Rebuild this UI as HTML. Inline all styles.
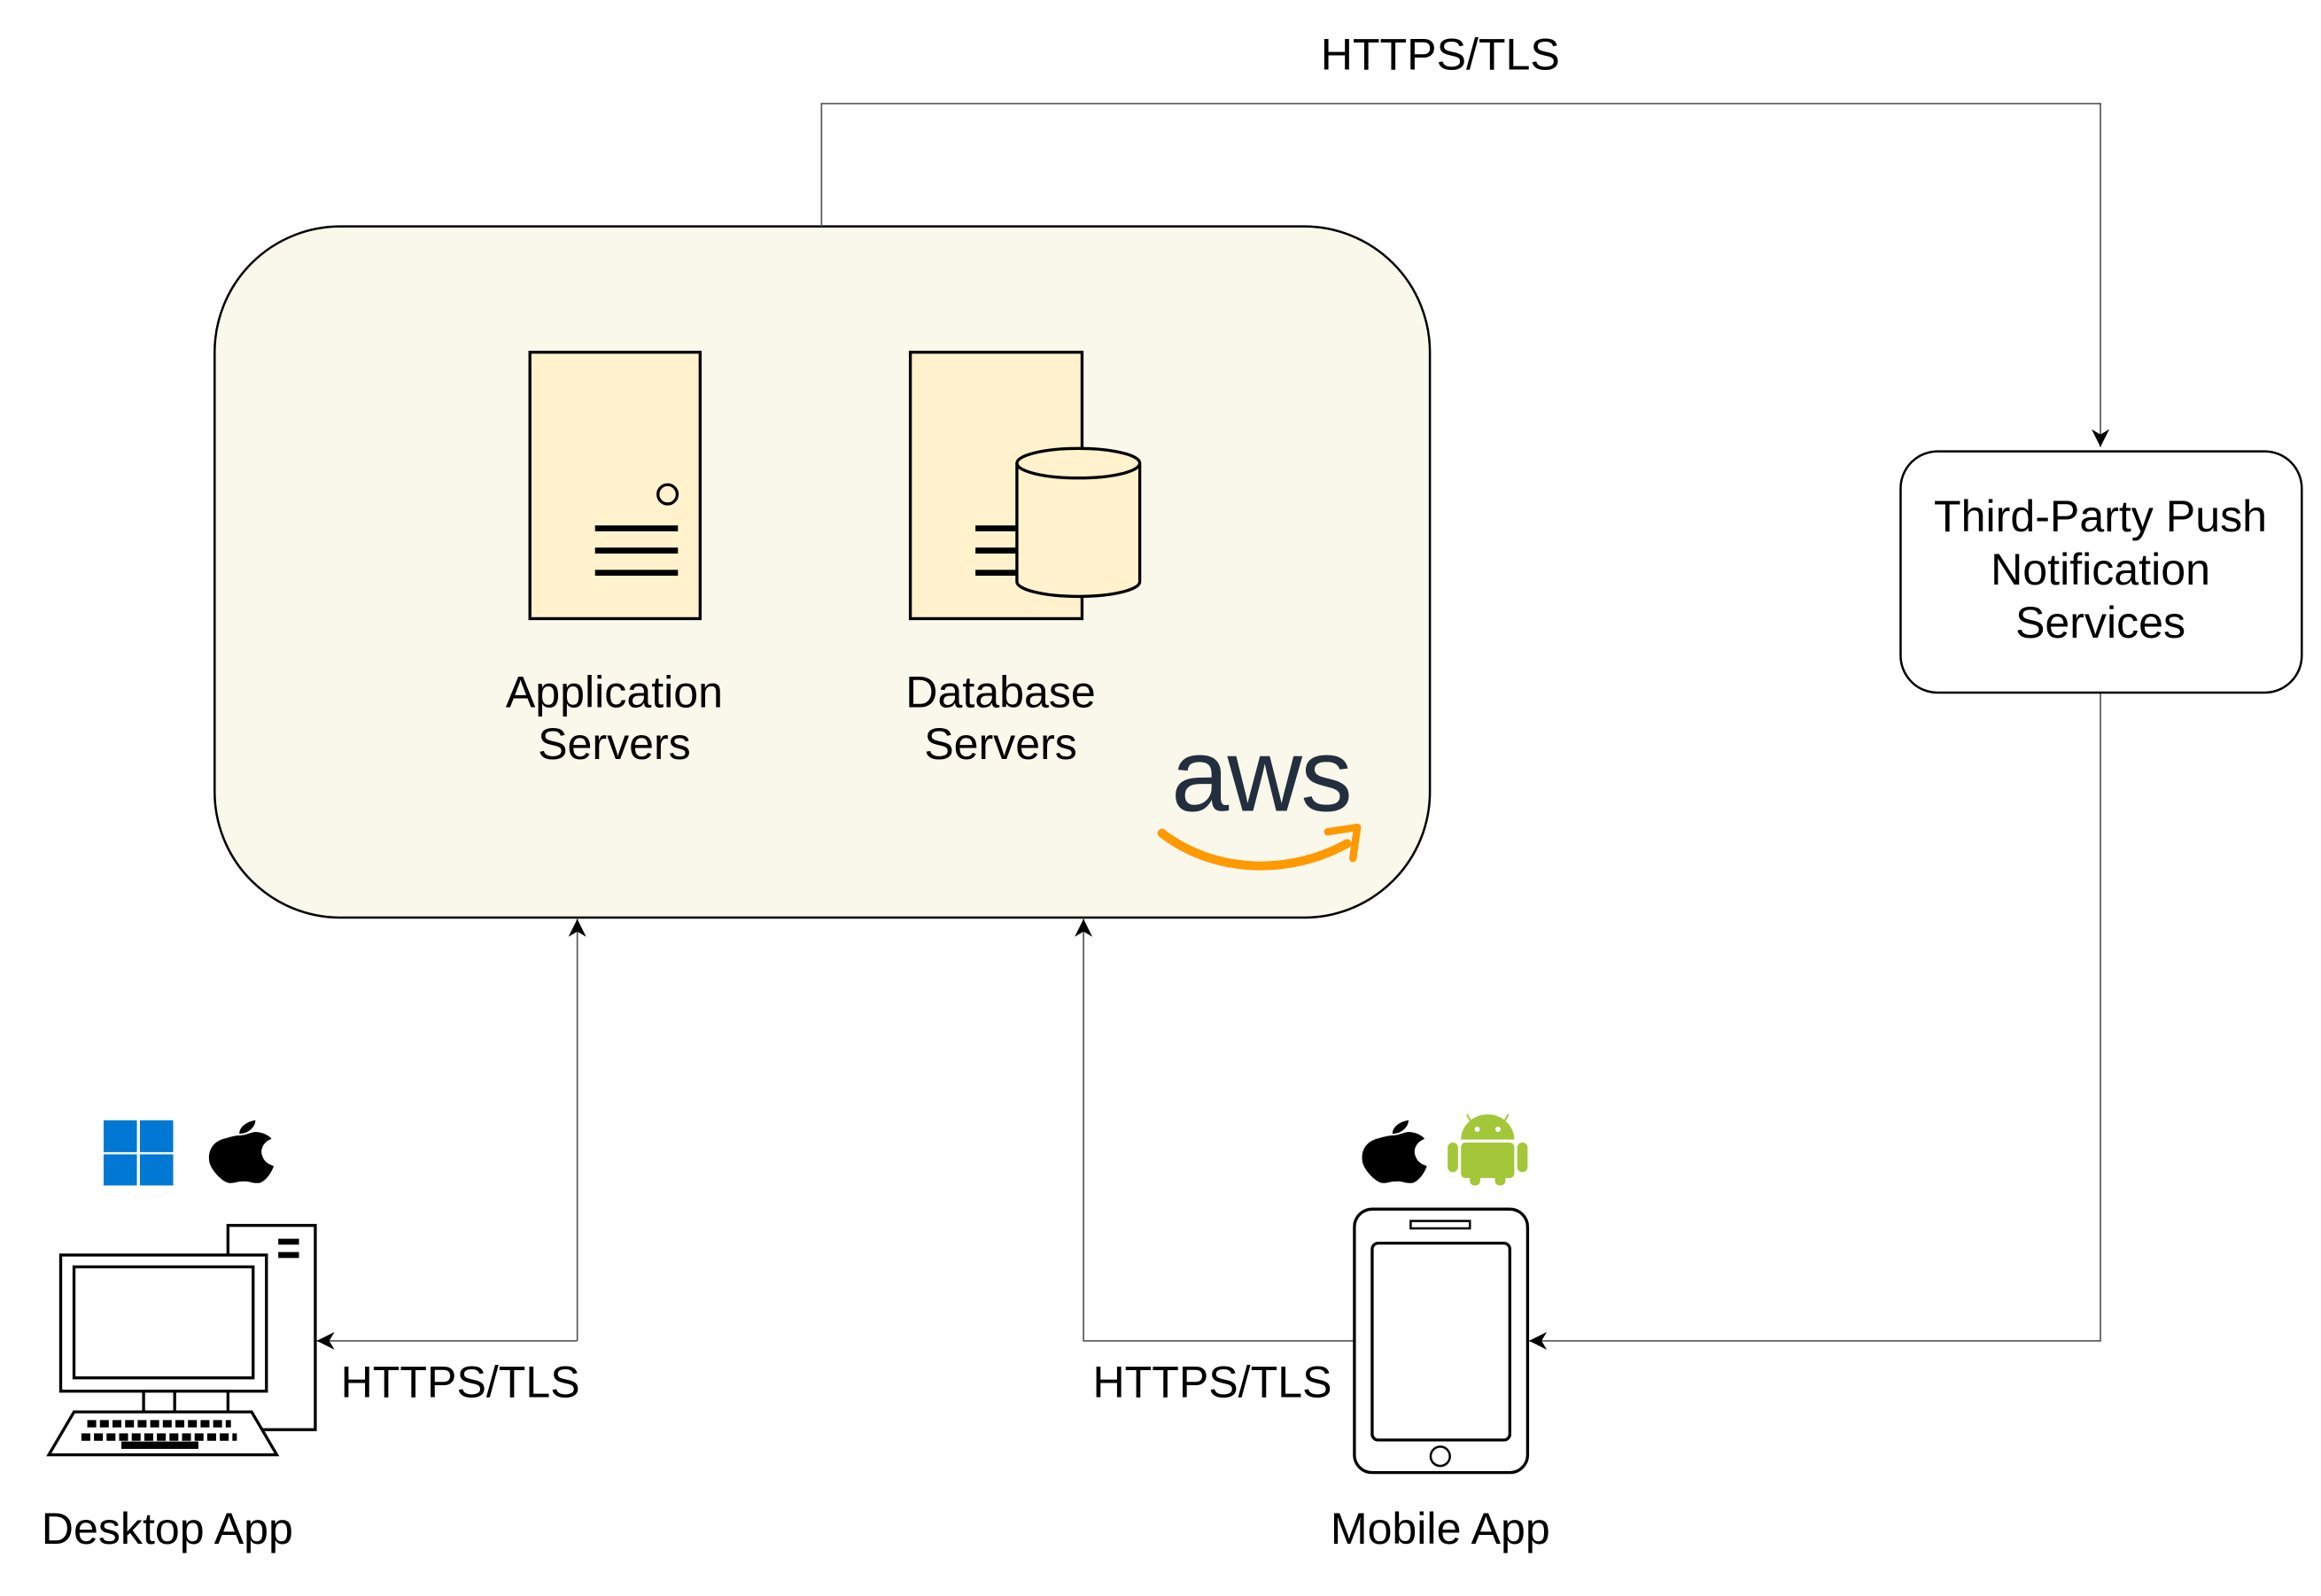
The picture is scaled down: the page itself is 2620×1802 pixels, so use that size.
<!DOCTYPE html>
<html><head><meta charset="utf-8"><style>
html,body{margin:0;padding:0;background:#fff;}
svg{display:block;}
text{font-family:"Liberation Sans",Arial,sans-serif;fill:#000;}
</style></head><body>
<svg width="2620" height="1802" viewBox="0 0 1568 1078.4" preserveAspectRatio="none" xmlns="http://www.w3.org/2000/svg">
<defs>
<marker id="ar" viewBox="0 0 10 10" refX="10" refY="5" markerWidth="12" markerHeight="12" markerUnits="userSpaceOnUse" orient="auto">
<path d="M0,0 L10,5 L0,10 L3,5 z" fill="#000"/>
</marker>
<path id="apple" d="M14,8 C17,8 19,6 21,6 C24,6 27,8 28,10 C24,12 23,17 24,20 C25,24 27,25 29,26 C28,30 25,36 22,36 C19,36 19,35 16,35 C13,35 12,36 10,36 C7,36 2,29 1,24 C0,18 2,12 7,10 C10,9 12,8 14,8 Z M14,7 C14,3 17,0 21,-1 C21,3 18,7 14,7 Z"/>
</defs>

<rect x="145" y="153" width="821" height="467" rx="85" ry="85" fill="#faf7eb" stroke="#000" stroke-width="1.5"/>

<rect x="358" y="238" width="115" height="180" fill="#fff2cc" stroke="#000" stroke-width="2"/>
<circle cx="451" cy="334" r="6.5" fill="none" stroke="#000" stroke-width="2"/>
<g stroke="#000" stroke-width="4"><line x1="402" y1="357" x2="458" y2="357"/><line x1="402" y1="372" x2="458" y2="372"/><line x1="402" y1="387" x2="458" y2="387"/></g>

<rect x="615" y="238" width="116" height="180" fill="#fff2cc" stroke="#000" stroke-width="2"/>
<g stroke="#000" stroke-width="4"><line x1="659" y1="357" x2="690" y2="357"/><line x1="659" y1="372" x2="690" y2="372"/><line x1="659" y1="387" x2="690" y2="387"/></g>
<path d="M687,313 L687,393 A41.5,10 0 0 0 770,393 L770,313" fill="#fff2cc" stroke="#000" stroke-width="2"/>
<ellipse cx="728.5" cy="313" rx="41.5" ry="10" fill="#fff2cc" stroke="#000" stroke-width="2"/>

<text x="415" y="478" font-size="30" text-anchor="middle">Application</text>
<text x="415" y="513" font-size="30" text-anchor="middle">Servers</text>
<text x="676" y="478" font-size="30" text-anchor="middle">Database</text>
<text x="676" y="513" font-size="30" text-anchor="middle">Servers</text>

<text x="852" y="548" font-size="70" text-anchor="middle" style="fill:#232f3e;letter-spacing:-1px">aws</text>
<path d="M785,563 C820,590 870,592 910,570" fill="none" stroke="#ff9900" stroke-width="6" stroke-linecap="round"/>
<path d="M897,562 L917,559 L914,580" fill="none" stroke="#ff9900" stroke-width="5" stroke-linecap="round" stroke-linejoin="round"/>

<g fill="none" stroke="#555" stroke-width="1">
<path d="M555,153 L555,70 L1419,70 L1419,302" marker-end="url(#ar)"/>
<path d="M1419,468 L1419,906 L1033,906" marker-end="url(#ar)"/>
<path d="M390,906 L390,621" marker-end="url(#ar)"/>
<path d="M390,906 L214,906" marker-end="url(#ar)"/>
<path d="M915,906 L732,906 L732,621" marker-end="url(#ar)"/>
</g>
<text x="973" y="47" font-size="30" text-anchor="middle">HTTPS/TLS</text>
<text x="311" y="944" font-size="30" text-anchor="middle">HTTPS/TLS</text>
<text x="819" y="944" font-size="30" text-anchor="middle">HTTPS/TLS</text>

<rect x="1284" y="305" width="271" height="163" rx="25" ry="25" fill="#fff" stroke="#000" stroke-width="1.5"/>
<text x="1419" y="359" font-size="30" text-anchor="middle">Third-Party Push</text>
<text x="1419" y="395" font-size="30" text-anchor="middle">Notification</text>
<text x="1419" y="431" font-size="30" text-anchor="middle">Services</text>

<g fill="#0078d4">
<rect x="70" y="757" width="22.5" height="21.5"/><rect x="94.5" y="757" width="22.5" height="21.5"/>
<rect x="70" y="780" width="22.5" height="21"/><rect x="94.5" y="780" width="22.5" height="21"/>
</g>
<use href="#apple" transform="translate(140,758) scale(1.55,1.15)"/>
<use href="#apple" transform="translate(919,758) scale(1.55,1.15)"/>
<g fill="#a4c639">
<path d="M987,770 A18,17 0 0 1 1023,770 Z"/>
<rect x="987" y="772" width="36" height="24" rx="3"/>
<rect x="978" y="772" width="7" height="20" rx="3.5"/>
<rect x="1025" y="772" width="7" height="20" rx="3.5"/>
<rect x="993" y="790" width="7" height="11" rx="3"/>
<rect x="1010" y="790" width="7" height="11" rx="3"/>
<line x1="991" y1="753" x2="995" y2="760" stroke="#a4c639" stroke-width="1.2"/>
<line x1="1019" y1="753" x2="1015" y2="760" stroke="#a4c639" stroke-width="1.2"/>
</g>
<circle cx="998" cy="763" r="1.8" fill="#fff"/><circle cx="1012" cy="763" r="1.8" fill="#fff"/>

<g stroke="#000" stroke-width="2" fill="#fff">
<rect x="154" y="828" width="59" height="138"/>
<rect x="41" y="848" width="139" height="92"/>
<rect x="50" y="856" width="121" height="75"/>
<rect x="97" y="940" width="57" height="14"/>
<line x1="118" y1="940" x2="118" y2="954"/>
<path d="M50,954 L170,954 L187,983 L33,983 Z"/>
</g>
<rect x="188" y="837" width="14" height="4" fill="#000"/><rect x="188" y="846" width="14" height="4" fill="#000"/>
<g stroke="#000" stroke-width="5" stroke-dasharray="6,2.5">
<line x1="59" y1="962" x2="156" y2="962"/>
<line x1="55" y1="971" x2="160" y2="971"/>
</g>
<rect x="82" y="974" width="52" height="5" fill="#000"/>

<rect x="915" y="817" width="117" height="178" rx="12" fill="#fff" stroke="#000" stroke-width="2"/>
<rect x="927" y="840" width="93" height="133" rx="4" fill="#fff" stroke="#000" stroke-width="2"/>
<rect x="953" y="825" width="40" height="5" fill="#fff" stroke="#000" stroke-width="1.5"/>
<ellipse cx="973" cy="984" rx="6.5" ry="6.5" fill="#fff" stroke="#000" stroke-width="1.5"/>

<text x="28" y="1043" font-size="30">Desktop App</text>
<text x="973" y="1043" font-size="30" text-anchor="middle">Mobile App</text>
</svg>
</body></html>
